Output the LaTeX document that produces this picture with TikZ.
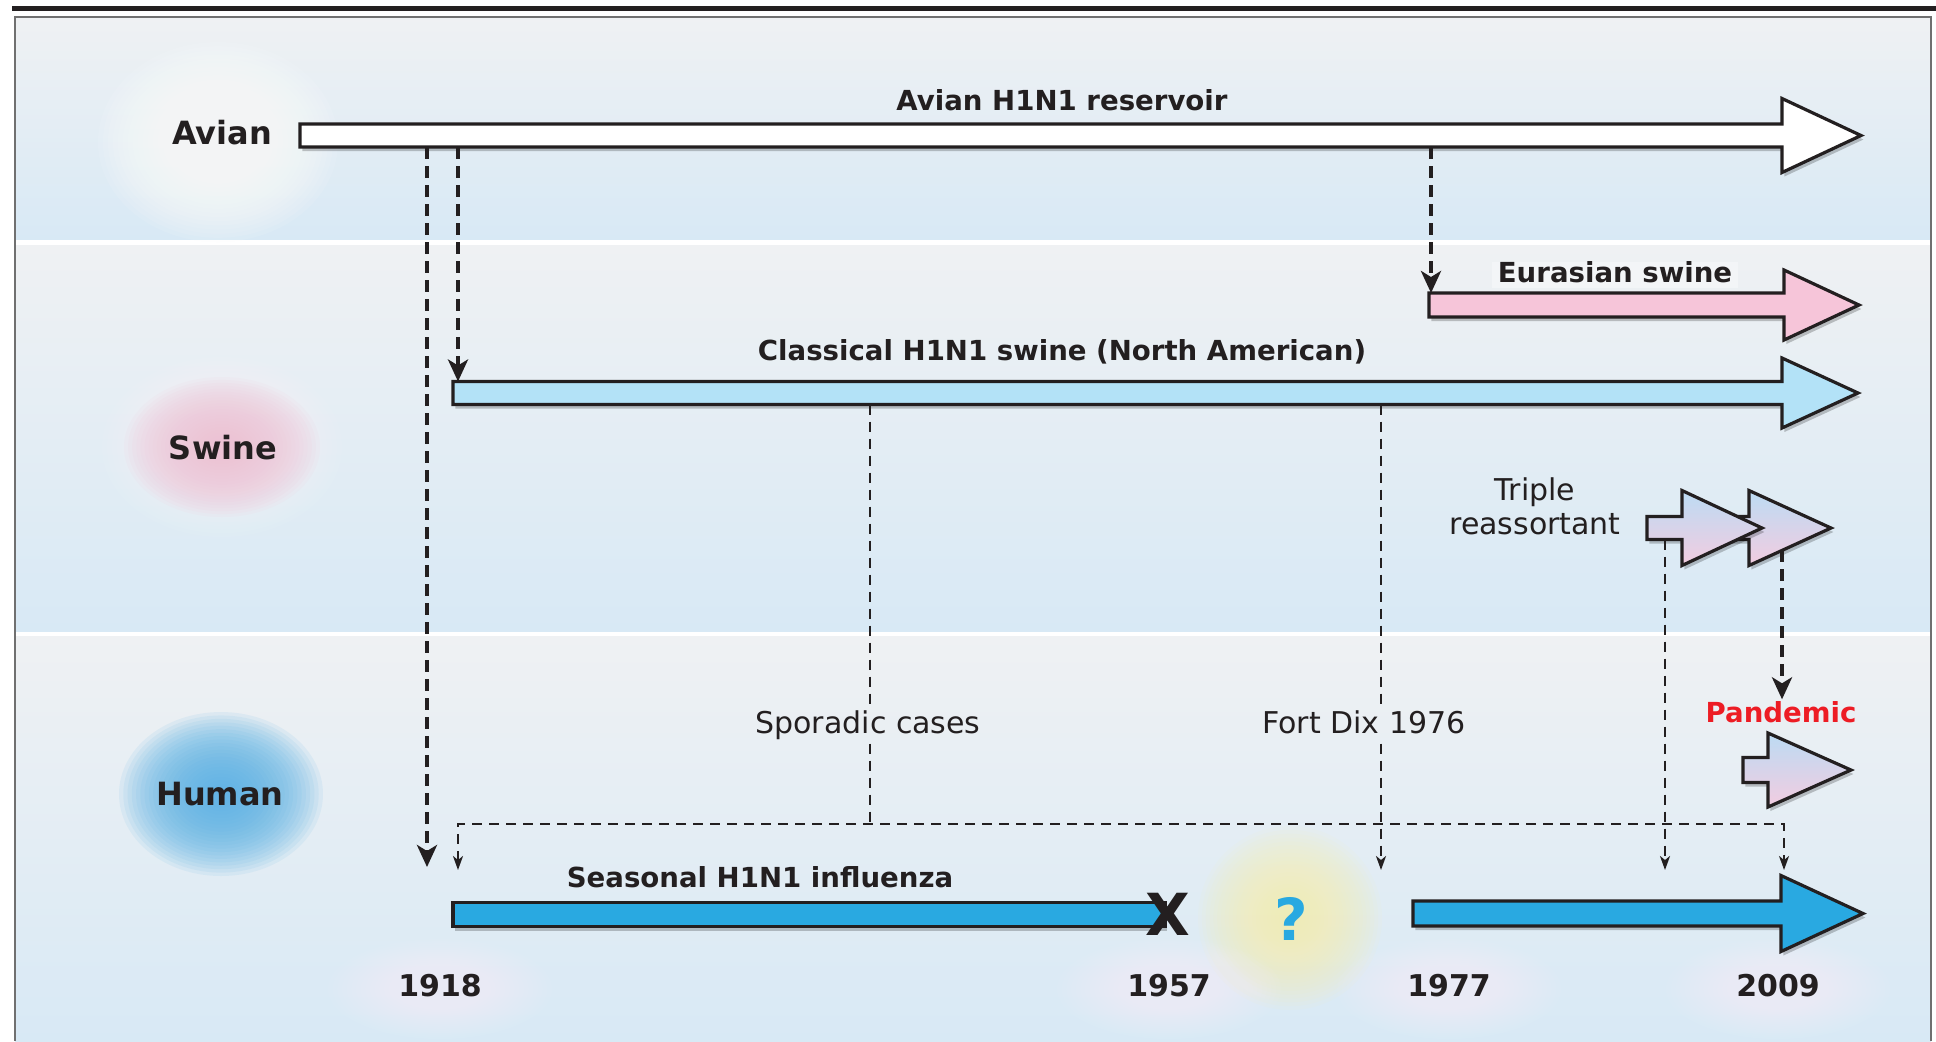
\documentclass[tikz,border=0pt]{standalone}
\usepackage{fontspec}
\setmainfont{DejaVu Sans}
\usetikzlibrary{arrows.meta,shadows}

\definecolor{bgtop}{HTML}{EFF1F3}
\definecolor{bgbot}{HTML}{D8E9F5}
\definecolor{outl}{HTML}{231F20}
\definecolor{clblue}{HTML}{B3E2F7}
\definecolor{seablue}{HTML}{29A9E1}
\definecolor{eupink}{HTML}{F6C5D9}
\definecolor{trblue}{HTML}{BCDBF3}
\definecolor{trpink}{HTML}{F2CCE0}
\definecolor{pandred}{HTML}{ED1C24}
\definecolor{swglow}{HTML}{F4C2D5}
\definecolor{huglow}{HTML}{5DB3E5}
\definecolor{yeglow}{HTML}{FCF5B0}
\definecolor{framegray}{HTML}{707070}
\definecolor{glowwhite}{HTML}{FCFDFE}

% soft glow: stacked translucent ellipses
\newcommand\softglow[6]{% colour, cx, cy, rx, ry, opacity per layer
  \foreach \k in {1,...,24}
    \fill[#1, opacity=#6] (#2,#3) ellipse [x radius={#4*\k/24}, y radius={#5*\k/24}];
}

\newcommand\fluarrow[8]{%
  \path[#2] (#3,#6-#7) -- (#4,#6-#7) -- (#4,#6-#8) -- (#5,#6) -- (#4,#6+#8) -- (#4,#6+#7) -- (#3,#6+#7) -- cycle;
  \coordinate (#1-w) at (#3,#6);
  \coordinate (#1-tip) at (#5,#6);
}

\tikzset{
  fatbase/.style={draw=outl, line width=1.6pt, line join=miter,
     drop shadow={shadow xshift=1.2pt, shadow yshift=-2pt, opacity=.22, fill=black}},
  avst/.style={fatbase, fill=white},
  eust/.style={fatbase, fill=eupink},
  clst/.style={fatbase, fill=clblue},
  sest/.style={fatbase, fill=seablue},
  trst/.style={fatbase, top color=trblue, bottom color=trpink},
  thickdash/.style={draw=outl, line width=2.4pt, dash pattern=on 6pt off 3.5pt},
  thindash/.style={draw=outl, line width=1.1pt, dash pattern=on 5pt off 3.5pt},
  bigtip/.style={-{Stealth[length=11pt,width=10pt,inset=3pt]}},
  smalltip/.style={-{Stealth[length=7pt,width=5pt,inset=2pt]}},
  rowlbl/.style={font=\bfseries\fontsize{16}{18}\selectfont, text=outl, inner sep=0pt, text height=0.73em, text depth=0pt},
  arlbl/.style={font=\bfseries\fontsize{13.8}{16}\selectfont, text=outl, inner sep=0pt, text height=0.73em, text depth=0pt},
  reglbl/.style={font=\fontsize{15}{18}\selectfont, text=outl, inner sep=0pt, text height=0.73em, text depth=0pt},
  yearlbl/.style={font=\bfseries\fontsize{15}{18}\selectfont, text=outl, inner sep=0pt, text height=0.73em, text depth=0pt},
}

\begin{document}
\begin{tikzpicture}[x=0.5pt,y=-0.5pt]
\useasboundingbox (0,0) rectangle (1936,1041);
\fill[white] (0,0) rectangle (1936,1041);
\fill[outl] (12,6) rectangle (1936,11);

% bands
\shade[top color=bgtop, bottom color=bgbot] (15,17) rectangle (1931,239);
\shade[top color=bgtop, bottom color=bgbot] (15,245) rectangle (1931,631);
\shade[top color=bgtop, bottom color=bgbot] (15,636) rectangle (1931,1041);
\draw[framegray, line width=1.3pt] (15,1041) -- (15,17) -- (1931,17) -- (1931,1041);

% glows
\softglow{glowwhite}{218}{142}{120}{100}{0.10}
\softglow{glowwhite}{222}{447}{120}{90}{0.06}
\softglow{swglow}{222}{447}{98}{70}{0.085}
\softglow{huglow}{221}{794}{102}{82}{0.10}
\softglow{yeglow}{1290}{918}{92}{92}{0.07}
\softglow{glowwhite}{1050}{728}{80}{16}{0.05}
\foreach \gx in {440,1169,1449,1778}{\softglow{glowwhite}{\gx}{989}{112}{50}{0.05}}

% big arrows
\fluarrow{av}{avst}{300}{1782}{1861}{135.5}{11.5}{37}
\fluarrow{eu}{eust}{1429}{1784}{1859}{305}{12}{35}
\fluarrow{cl}{clst}{453}{1782}{1858}{393}{11.5}{35}
\fluarrow{trb}{trst}{1700}{1749}{1831}{528}{11.5}{37.5}
\fluarrow{tra}{trst}{1647}{1682}{1762}{528}{11.5}{37.5}
\fluarrow{pa}{trst}{1743}{1768}{1851}{770}{12.5}{37}
\fluarrow{sr}{sest}{1413}{1781}{1863}{913.5}{12.5}{38}
\path[sest] (453,902.5) rectangle (1165,926.5);
\coordinate (sl-w) at (453,914.5);

% labels
\node[rowlbl] (tavian) at (222,137) {Avian};
\node[rowlbl] (tswine) at (223,452) {Swine};
\node[rowlbl] (thuman) at (220,798) {Human};
\node[arlbl] (tav) at (1062,103) {Avian H1N1 reservoir};
\node[arlbl, fill=white, fill opacity=.35, text opacity=1, inner sep=3pt] (teu) at (1615,275) {Eurasian swine};
\node[arlbl] (tcl) at (1062,353) {Classical H1N1 swine (North American)};
\node[arlbl] (tse) at (760,880) {Seasonal H1N1 influenza};
\node[reglbl] (ttr1) at (1535,493) {Triple};
\node[reglbl] (ttr2) at (1535,527) {reassortant};
\node[arlbl, text=pandred, inner sep=4pt] (tpa) at (1781,715) {Pandemic};
\node[reglbl, inner ysep=5pt] (tspor) at (868,726) {Sporadic cases};
\node[reglbl, inner ysep=5pt] (tfort) at (1364,726) {Fort Dix 1976};
\node[font=\bfseries\fontsize{29}{30}\selectfont, text=outl, inner sep=0pt] (tx) at (1168,914) {X};
\node[font=\bfseries\fontsize{29}{30}\selectfont, text=seablue, inner sep=0pt] (tq) at (1291,919) {?};
\node[yearlbl] (y1) at (440,989) {1918};
\node[yearlbl] (y2) at (1169,989) {1957};
\node[yearlbl] (y3) at (1449,989) {1977};
\node[yearlbl] (y4) at (1778,989) {2009};

% connector coordinates
\coordinate (a1) at (427,147);   \coordinate (h1) at (427,867);
\coordinate (a2) at (458,147);   \coordinate (c2) at (458,381.5);
\coordinate (a3) at (1431,147);  \coordinate (e3) at (1431,293);
\coordinate (t4) at (1782,550);
\coordinate (c5) at (870,404.5); \coordinate (hl5) at (870,824);
\coordinate (c6) at (1381,404.5); \coordinate (s6) at (1381,870);
\coordinate (t7) at (1665,539.5); \coordinate (s7) at (1665,870);
\coordinate (hA) at (458,870);  \coordinate (hB) at (458,824);
\coordinate (hC) at (1784,824); \coordinate (hD) at (1784,870);

% thick dashed
\draw[thickdash, bigtip] (a1) -- (h1);
\draw[thickdash, bigtip] (a2) -- (c2);
\draw[thickdash, bigtip] (a3) -- (e3);
\draw[thickdash, bigtip] (t4) -- (tpa.north -| t4);

% thin dashed
\draw[thindash] (c5) -- (tspor.north -| c5);
\draw[thindash] (tspor.south -| c5) -- (hl5);
\draw[thindash] (c6) -- (tfort.north -| c6);
\draw[thindash, smalltip] (tfort.south -| c6) -- (s6);
\draw[thindash, smalltip] (t7) -- (s7);
\draw[thindash, {Stealth[length=7pt,width=5pt,inset=2pt]}-{Stealth[length=7pt,width=5pt,inset=2pt]}] (hA) -- (hB) -- (hC) -- (hD);
\end{tikzpicture}
\end{document}
